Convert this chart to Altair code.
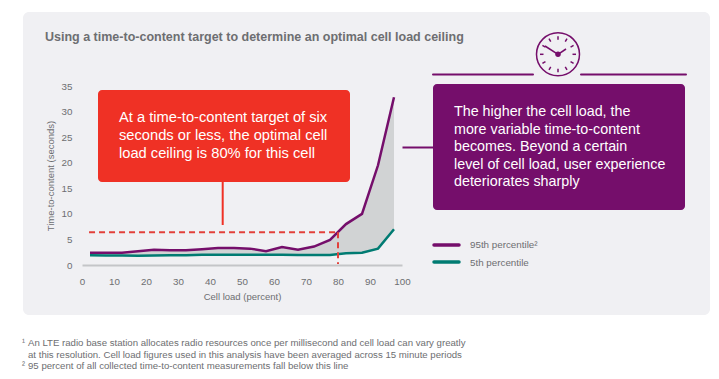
import math
import altair as alt
import pandas as pd

load = [2.5, 7.5, 12.5, 17.5, 22.5, 27.5, 32.5, 37.5, 42.5, 47.5, 52.5, 57.5, 62.5, 67.5, 72.5, 77.5, 82.5, 87.5, 92.5, 97.5]
p95 = [2.4, 2.4, 2.4, 2.7, 3.0, 2.9, 2.9, 3.1, 3.3, 3.3, 3.2, 2.7, 3.5, 3.0, 3.6, 4.9, 8.0, 10.0, 19.5, 32.8]
p5 = [1.9, 1.85, 1.85, 1.8, 1.85, 1.9, 1.9, 2.0, 2.0, 2.0, 2.0, 2.0, 2.0, 1.95, 1.95, 1.95, 2.3, 2.4, 3.2, 7.0]

TITLE = "Using a time-to-content target to determine an optimal cell load ceiling"
RED_TEXT = ["At a time-to-content target of six", "seconds or less, the optimal cell", "load ceiling is 80% for this cell"]
PURPLE_TEXT = ["The higher the cell load, the", "more variable time-to-content", "becomes. Beyond a certain", "level of cell load, user experience", "deteriorates sharply"]
FOOTNOTES = [
    ("¹", "An LTE radio base station allocates radio resources once per millisecond and cell load can vary greatly", 343),
    ("", "at this resolution. Cell load figures used in this analysis have been averaged across 15 minute periods", 355),
    ("²", "95 percent of all collected time-to-content measurements fall below this line", 366),
]
LEGEND = ["95th percentile²", "5th percentile"]

PANEL = "#f0f0f3"
PURPLE = "#750e6b"
TEAL = "#007b72"
RED = "#ef3125"
GREY_TEXT = "#6d6e71"
FONT = "Liberation Sans"

OX, OY = 82, 86  # page position of plot origin


def px(v):
    return v - OX


def py(v):
    return v - OY


one = pd.DataFrame({"a": [0]})


def box(x0, x1, y0, y1, color, radius=0):
    return alt.Chart(one).mark_rect(color=color, cornerRadius=radius).encode(
        x=alt.value(px(x0)), x2=alt.value(px(x1)), y=alt.value(py(y0)), y2=alt.value(py(y1)))


def seg(x0, y0, x1, y1, color, w=2.0, cap="butt"):
    return alt.Chart(one).mark_rule(color=color, strokeWidth=w, strokeCap=cap).encode(
        x=alt.value(px(x0)), x2=alt.value(px(x1)), y=alt.value(py(y0)), y2=alt.value(py(y1)))


def label(s, x, y, size, color, weight="normal"):
    return alt.Chart(pd.DataFrame({"t": [s]})).mark_text(
        align="left", baseline="middle", fontSize=size, color=color, font=FONT, fontWeight=weight
    ).encode(x=alt.value(px(x)), y=alt.value(py(y)), text="t:N")


data = pd.DataFrame({"load": load, "p95": p95, "p5": p5})
x_scale = alt.Scale(domain=[0, 100], nice=False, zero=False)
y_scale = alt.Scale(domain=[0, 35], nice=False, zero=False)

x_enc = alt.X("load:Q", scale=x_scale, axis=alt.Axis(
    values=list(range(0, 101, 10)), tickCount=11, title="Cell load (percent)", ticks=False, grid=False,
    domainColor="#c4c5c8", domainWidth=2, labelColor=GREY_TEXT, titleColor=GREY_TEXT,
    labelFont=FONT, titleFont=FONT, labelFontSize=9.8, titleFontSize=9.5, titleFontWeight="normal",
    labelPadding=11, titlePadding=6, zindex=1, labelOverlap=False, labelFlush=False))
y_enc = alt.Y("p5:Q", scale=y_scale, axis=alt.Axis(
    values=list(range(0, 36, 5)), tickCount=8, title="Time-to-content (seconds)", ticks=False, grid=False, domain=False,
    labelColor=GREY_TEXT, titleColor=GREY_TEXT, labelFont=FONT, titleFont=FONT,
    labelFontSize=9.8, titleFontSize=9.5, titleFontWeight="normal", labelPadding=10, titlePadding=6, zindex=1,
    labelOverlap=False, labelFlush=False))

area = alt.Chart(data).mark_area(color="#d1d3d4", opacity=1).encode(
    x=x_enc, y=y_enc, y2="p95:Q")
line5 = alt.Chart(data).mark_line(color=TEAL, strokeWidth=2.5).encode(
    x="load:Q", y=alt.Y("p5:Q"))
line95 = alt.Chart(data).mark_line(color=PURPLE, strokeWidth=2.5).encode(
    x="load:Q", y=alt.Y("p95:Q"))

target_h = alt.Chart(pd.DataFrame({"x0": [2.2], "x1": [80], "y": [6.4]})).mark_rule(
    color="#e2403a", strokeWidth=2, strokeDash=[6, 4]).encode(
    x=alt.X("x0:Q", scale=x_scale), x2="x1:Q", y=alt.Y("y:Q", scale=y_scale))
target_v = alt.Chart(pd.DataFrame({"x": [80], "y0": [6.4], "y1": [0.2]})).mark_rule(
    color="#e2403a", strokeWidth=2, strokeDash=[6, 4]).encode(
    x=alt.X("x:Q", scale=x_scale), y=alt.Y("y0:Q", scale=y_scale), y2="y1:Q")

# Clock glyph
CX, CY, R = 558, 54.3, 21.5
clock_ticks = []
for i in range(12):
    a = math.radians(i * 30)
    clock_ticks.append(seg(CX + 14.5 * math.sin(a), CY - 14.5 * math.cos(a),
                           CX + 18 * math.sin(a), CY - 18 * math.cos(a), PURPLE, 1.5))
clock_ring = alt.Chart(one).mark_point(shape="circle", size=(2 * R) ** 2, filled=False, color=PURPLE,
                                       strokeWidth=1.5, opacity=1).encode(
    x=alt.value(px(CX)), y=alt.value(py(CY)))
clock_dot = alt.Chart(one).mark_point(shape="circle", size=30, filled=True, color=PURPLE, opacity=1).encode(
    x=alt.value(px(CX)), y=alt.value(py(CY)))

layers = [
    box(23, 710, 12, 315, PANEL, 6),
    area, line5, line95, target_h, target_v,
    box(98, 350, 90, 182, RED, 4),
    seg(222.7, 182, 222.7, 225, RED, 2),
    box(433, 685, 84, 210, PURPLE, 4),
    seg(402.5, 147.5, 433, 147.5, PURPLE, 2),
    seg(433, 74.5, 533, 74.5, PURPLE, 2, "round"),
    seg(581, 74.5, 686, 74.5, PURPLE, 2, "round"),
    seg(434, 245, 459, 245, PURPLE, 3.5, "round"),
    seg(434, 262, 459, 262, TEAL, 3.5, "round"),
    clock_ring, *clock_ticks,
    seg(CX, CY, 545, 46, PURPLE, 1.5),
    seg(CX, CY, 566, 49, PURPLE, 1.5),
    clock_dot,
    label(TITLE, 45, 37, 12.5, GREY_TEXT, "bold"),
    label(LEGEND[0], 470, 245, 9.8, GREY_TEXT),
    label(LEGEND[1], 470, 263, 9.8, GREY_TEXT),
]
for i, s in enumerate(RED_TEXT):
    layers.append(label(s, 119, 118 + 18 * i, 14.7, "#ffffff"))
for i, s in enumerate(PURPLE_TEXT):
    layers.append(label(s, 454, 112 + 17.6 * i, 14.3, "#ffffff"))
for sup, s, y in FOOTNOTES:
    if sup:
        layers.append(label(sup, 22, y - 1, 9, GREY_TEXT))
    layers.append(label(s, 28, y, 9.65, GREY_TEXT))

chart = alt.layer(*layers).properties(
    width=320, height=179,
    padding={"left": 74, "top": 78, "right": 309, "bottom": 106},
    autosize=alt.AutoSizeParams(type="none"),
    background="#ffffff",
).configure_view(stroke=None)

chart.save("out.html", embed_options={"renderer": "svg", "actions": False})
